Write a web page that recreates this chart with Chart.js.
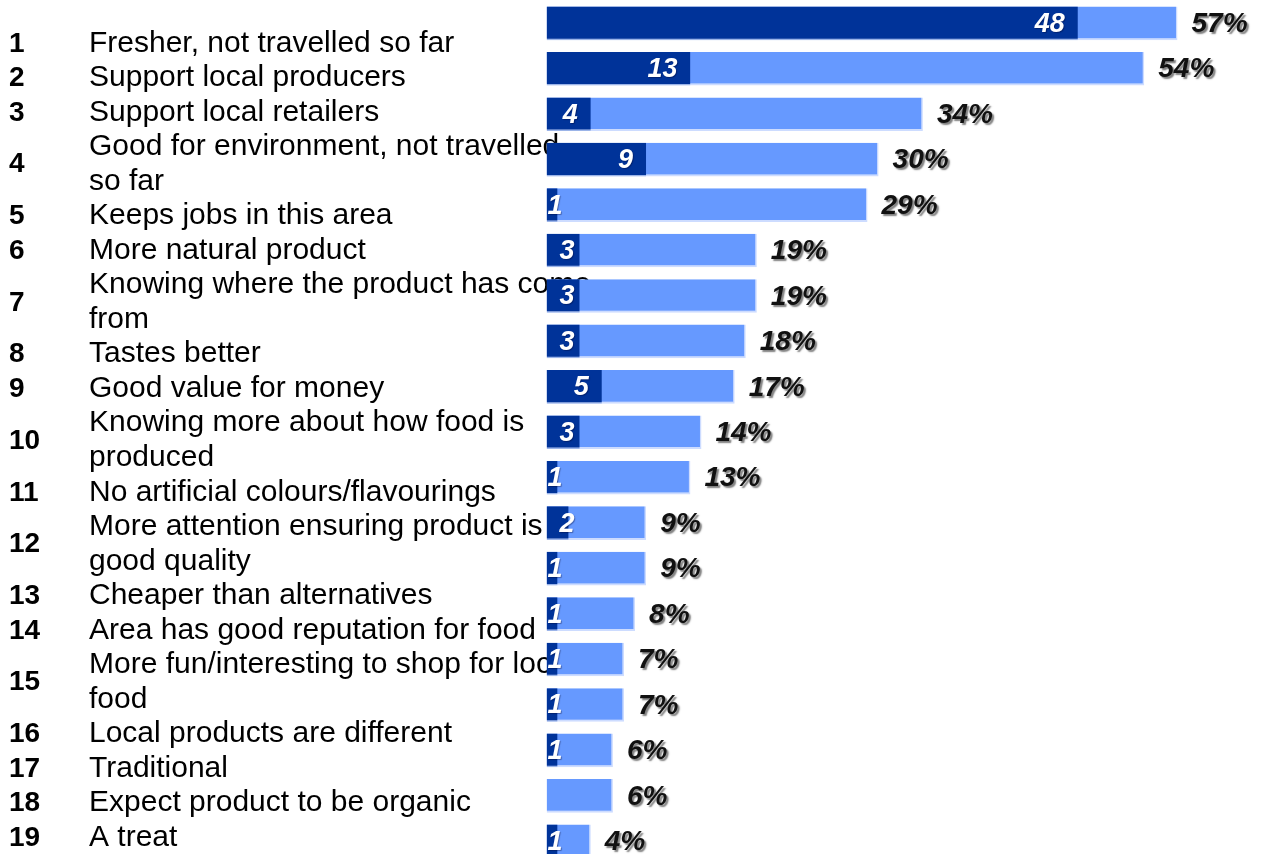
<!DOCTYPE html>
<html>
<head>
<meta charset="utf-8">
<script src="https://cdn.jsdelivr.net/npm/chart.js@4/dist/chart.umd.min.js"></script>
<style>
  html, body { margin: 0; padding: 0; background: #fff; overflow: hidden; }
  #wrap { position: relative; width: 1269px; height: 870px; }
</style>
</head>
<body>
<div id="wrap"><canvas id="reasons"></canvas></div>
<script>
// reasons for buying local food, one entry per row (some wrap onto two lines)
const reasons = [
  ['Fresher, not travelled so far'],
  ['Support local producers'],
  ['Support local retailers'],
  ['Good for environment, not travelled', 'so far'],
  ['Keeps jobs in this area'],
  ['More natural product'],
  ['Knowing where the product has come', 'from'],
  ['Tastes better'],
  ['Good value for money'],
  ['Knowing more about how food is', 'produced'],
  ['No artificial colours/flavourings'],
  ['More attention ensuring product is', 'good quality'],
  ['Cheaper than alternatives'],
  ['Area has good reputation for food'],
  ['More fun/interesting to shop for local', 'food'],
  ['Local products are different'],
  ['Traditional'],
  ['Expect product to be organic'],
  ['A treat']
];
const rankLabels = reasons.map((r, i) => String(i + 1));

// main reason (dark) and all mentions in % (light)
const mainReason = [48, 13, 4, 9, 1, 3, 3, 3, 5, 3, 1, 2, 1, 1, 1, 1, 1, 0, 1];
const allMentions = [57, 54, 34, 30, 29, 19, 19, 18, 17, 14, 13, 9, 9, 8, 7, 7, 6, 6, 4];

const FONT = "'Liberation Sans', Arial, sans-serif";
const LINE_H = 34.54;

// numbered text list on the left, drawn before the bars so they cover it
const reasonList = {
  id: 'reasonList',
  beforeDatasetsDraw(chart) {
    const ctx = chart.ctx;
    ctx.save();
    ctx.fillStyle = '#000';
    ctx.textBaseline = 'alphabetic';
    ctx.textAlign = 'left';
    let line = 0;
    reasons.forEach((lines, i) => {
      const base = 51.5 + line * LINE_H;
      const numY = base + (lines.length - 1) * LINE_H / 2;
      ctx.font = 'bold 28px ' + FONT;
      ctx.fillText(rankLabels[i], 9, numY);
      ctx.font = '30px ' + FONT;
      lines.forEach((t, k) => ctx.fillText(t, 89, base + k * LINE_H));
      line += lines.length;
    });
    ctx.restore();
  }
};

// white counts inside the dark bars and shadowed % after the light bars
const barLabels = {
  id: 'barLabels',
  afterDatasetsDraw(chart) {
    const ctx = chart.ctx;
    const dark = chart.getDatasetMeta(0).data;
    const light = chart.getDatasetMeta(1).data;
    ctx.save();
    ctx.textBaseline = 'middle';
    ctx.textAlign = 'left';
    dark.forEach((bar, i) => {
      const v = mainReason[i];
      if (!v) return;
      ctx.font = 'italic bold 27px ' + FONT;
      const w = ctx.measureText(String(v)).width;
      let left;
      if (bar.x - bar.base < 15) left = bar.base + 1;
      else left = Math.max(bar.x - 13 - w, bar.base + 13);
      ctx.shadowColor = 'rgba(0,0,40,0.35)';
      ctx.shadowOffsetX = 1;
      ctx.shadowOffsetY = 1;
      ctx.shadowBlur = 1;
      ctx.fillStyle = '#fff';
      ctx.fillText(String(v), left, bar.y + 1);
    });
    light.forEach((bar, i) => {
      ctx.font = 'italic bold 28px ' + FONT;
      ctx.shadowColor = 'rgba(0,0,0,0.5)';
      ctx.shadowOffsetX = 2;
      ctx.shadowOffsetY = 2;
      ctx.shadowBlur = 1.5;
      ctx.fillStyle = '#111';
      ctx.fillText(allMentions[i] + '%', bar.x + 14, bar.y + 1);
    });
    ctx.restore();
  }
};

const ctx = document.getElementById('reasons');
const chart = new Chart(ctx, {
  type: 'bar',
  data: {
    labels: rankLabels,
    datasets: [
      {
        label: 'Main reason',
        data: mainReason,
        backgroundColor: '#003399',
        borderColor: 'rgba(150,175,230,0.9)',
        borderWidth: { bottom: 1.5, top: 0, right: 0, left: 0 },
        borderSkipped: false,
        grouped: false,
        barPercentage: 0.74,
        categoryPercentage: 1
      },
      {
        label: 'All mentions',
        data: allMentions,
        backgroundColor: '#6699ff',
        borderColor: 'rgba(205,220,255,1)',
        borderWidth: { bottom: 2, right: 1.5, top: 0, left: 0 },
        borderSkipped: false,
        grouped: false,
        barPercentage: 0.74,
        categoryPercentage: 1
      }
    ]
  },
  options: {
    indexAxis: 'y',
    responsive: true,
    maintainAspectRatio: false,
    animation: false,
    layout: {
      padding: { left: 546.5, right: 58.3, top: 0.6, bottom: 6 }
    },
    scales: {
      x: { display: false, min: 0, max: 60 },
      y: { display: false, offset: true }
    },
    plugins: {
      legend: { display: false },
      tooltip: { enabled: false }
    }
  },
  plugins: [reasonList, barLabels]
});
</script>
</body>
</html>
